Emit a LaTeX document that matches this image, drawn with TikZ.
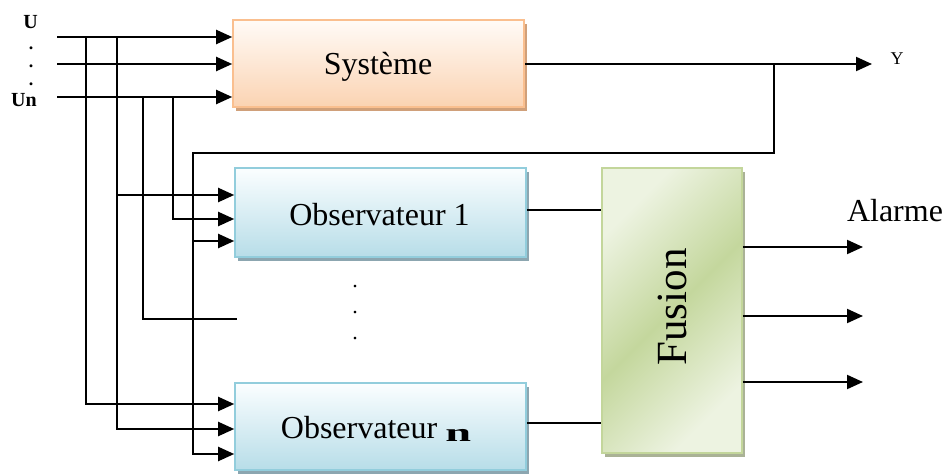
\documentclass[tikz,border=0pt]{standalone}
\usepackage{fontspec}
\usepackage{graphicx}
\setmainfont{Liberation Serif}
\usetikzlibrary{arrows.meta,shadows}

\definecolor{sysedge}{RGB}{250,191,143}
\definecolor{systop}{RGB}{255,251,247}
\definecolor{sysbot}{RGB}{251,211,178}
\definecolor{sysshadow}{RGB}{208,160,122}
\definecolor{obsedge}{RGB}{146,205,220}
\definecolor{obstop}{RGB}{251,254,255}
\definecolor{obsbot}{RGB}{183,221,232}
\definecolor{obsshadow}{RGB}{140,166,176}
\definecolor{fusedge}{RGB}{195,214,155}
\definecolor{fuslight}{RGB}{237,243,225}
\definecolor{fusdark}{RGB}{196,215,157}
\definecolor{fusshadow}{RGB}{170,178,150}

% diagonal light/dark/light band for the fusion block
\pgfdeclarehorizontalshading{fusionshade}{100bp}{%
  color(0bp)=(fuslight); color(26bp)=(fuslight); color(50bp)=(fusdark);
  color(74bp)=(fuslight); color(100bp)=(fuslight)}

\tikzset{
  block/.style={draw, line width=1.6pt, inner sep=0pt},
  bigtext/.style={font=\fontsize{32}{38}\selectfont},
  sysbox/.style={block, draw=sysedge, top color=systop, bottom color=sysbot,
    drop shadow={shadow xshift=3pt, shadow yshift=-4pt, fill=sysshadow, opacity=1}},
  obsbox/.style={block, draw=obsedge, top color=obstop, bottom color=obsbot,
    drop shadow={shadow xshift=3pt, shadow yshift=-4pt, fill=obsshadow, opacity=1}},
  fusbox/.style={block, draw=fusedge, shading=fusionshade, shading angle=-45,
    drop shadow={shadow xshift=3pt, shadow yshift=-4pt, fill=fusshadow, opacity=1}},
  feed/.style={line width=2.1pt, -{Triangle[length=16pt,width=14pt]}},
  link/.style={line width=1.6pt},
  inlabel/.style={font=\fontsize{20}{22}\selectfont\bfseries, inner sep=0pt},
}

\begin{document}
\begin{tikzpicture}[x=1pt,y=-1pt]
\useasboundingbox (0,0) rectangle (946,474);

% blocks
\node[sysbox, minimum width=291pt, minimum height=87pt] (sys) at (378.5,63.5) {};
\node[bigtext] (systxt) at (378,67) {Système};
\node[obsbox, minimum width=291pt, minimum height=89pt] (obs1) at (380.5,212.5) {};
\node[bigtext] (obs1txt) at (379.5,215) {Observateur 1};
\node[obsbox, minimum width=291pt, minimum height=87pt] (obsn) at (380.5,426.5) {};
\node[bigtext] (obsntxt) at (376,429)
  {Observateur \raisebox{-3pt}{\scalebox{1.45}[0.8]{\bfseries n}}};
\node[fusbox, minimum width=140pt, minimum height=285pt] (fus) at (672,310.5) {};
\node[rotate=90, font=\fontsize{43}{50}\selectfont] (fustxt) at (672,307) {Fusion};

% input labels
\node[inlabel] (ulab) at (30.5,22) {U};
\node[inlabel, align=center, font=\fontsize{18}{18}\selectfont\bfseries] (udots) at (31,66) {.\\.\\.};
\node[inlabel] (unlab) at (24,100) {Un};

% inputs into the system
\coordinate (in1) at (57,37);
\coordinate (in2) at (57,64);
\coordinate (in3) at (57,97);
\foreach \c in {in1,in2,in3} \draw[feed] (\c) -- (\c -| sys.west);

% taps on the input bus
\coordinate (b1) at (86,37);
\coordinate (b2) at (117,37);
\coordinate (b3) at (143,97);
\coordinate (b4) at (173,97);
\coordinate (stub) at (237,319);
\draw[feed] (b1) |- (obsn.west |- 0,404);
\draw[feed] (b2) |- (obsn.west |- 0,429);
\draw[feed] (b2 |- 0,195) -- (obs1.west |- 0,195);
\draw[link] (b3) |- (stub);
\draw[feed] (b4) |- (obs1.west |- 0,219);

% system output and feedback of Y
\coordinate (yend) at (872,64);
\coordinate (tap) at (774,64);
\coordinate (fbcorner) at (193,153);
\draw[feed] (sys.east |- yend) -- (yend);
\node[font=\fontsize{18}{20}\selectfont, inner sep=0pt] (ylab) at (897,59) {Y};
\draw[feed] (tap) |- (fbcorner) |- (obsn.west |- 0,454);
\draw[feed] (fbcorner |- 0,241) -- (obs1.west |- 0,241);

% observers to fusion
\draw[link] (obs1.east |- 0,210) -- (fus.west |- 0,210);
\draw[link] (obsn.east |- 0,423) -- (fus.west |- 0,423);

% vertical dots between observers
\node[align=center, font=\fontsize{22}{26}\selectfont, inner sep=0pt] (vdots) at (355,313) {.\\.\\.};

% alarm outputs
\coordinate (al1) at (863,247);
\coordinate (al2) at (863,316);
\coordinate (al3) at (863,382);
\foreach \c in {al1,al2,al3} \draw[feed] (fus.east |- \c) -- (\c);
\node[bigtext, inner sep=0pt] (alarme) at (895,211) {Alarme};
\end{tikzpicture}
\end{document}
